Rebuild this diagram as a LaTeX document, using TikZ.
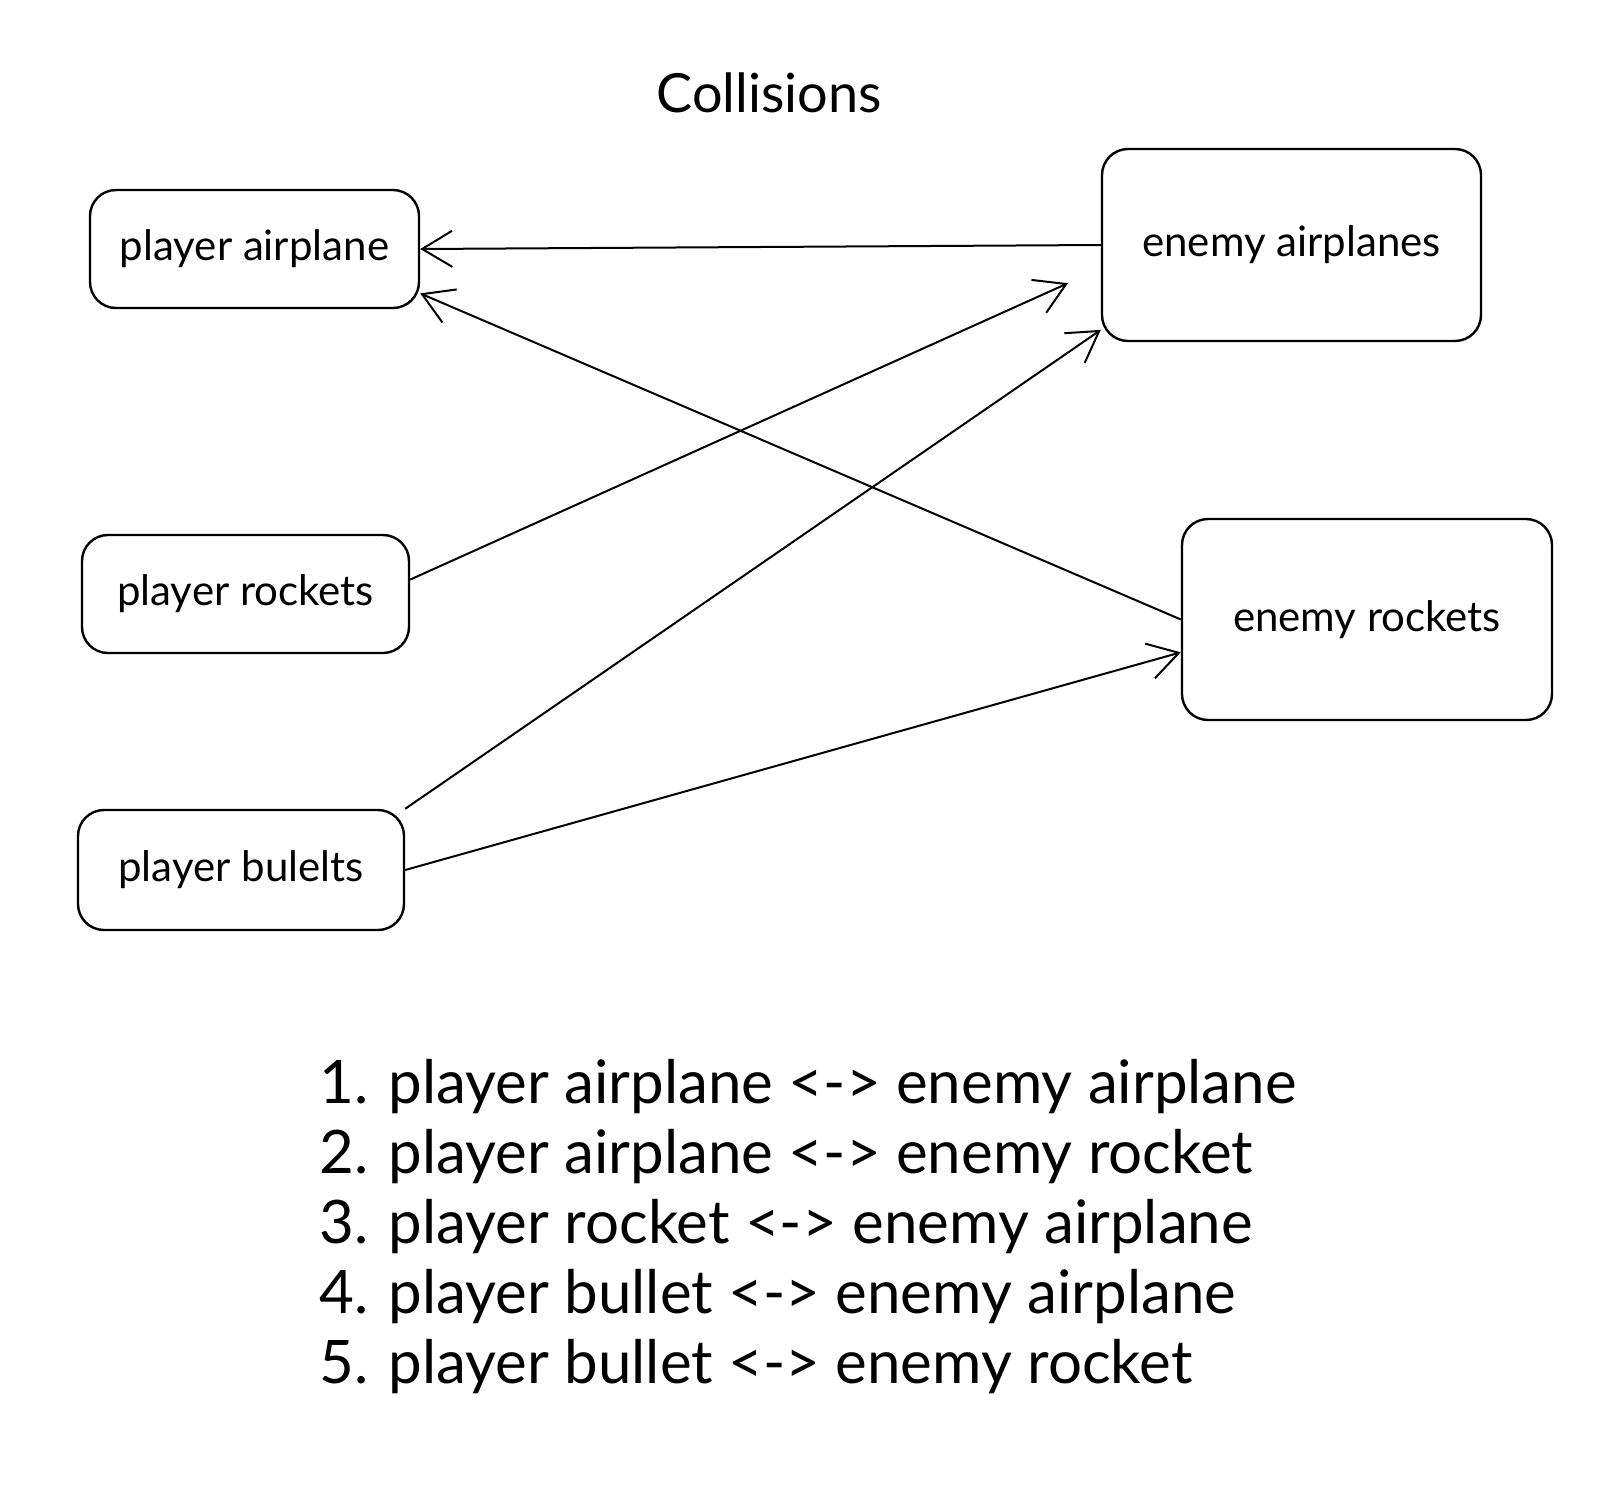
\documentclass[tikz,border=0pt]{standalone}
\usepackage{fontspec}
\setmainfont{Lato}
\usetikzlibrary{arrows.meta}

\begin{document}
\begin{tikzpicture}[x=0.5pt,y=-0.5pt,
  box/.style={draw, line width=1.2pt, rounded corners=13pt, inner sep=0pt, font=\fontsize{21}{25}\selectfont},
  link/.style={line width=1pt, -{Straight Barb[length=15pt,width=18pt,line width=1pt]}}]
\useasboundingbox (0,0) rectangle (1612,1488);

% Text Node
\node (title) at (769,93) {\fontsize{27}{31}\selectfont Collisions};

%Shape: Rectangle [player side]
\node[box, minimum width=164.5pt, minimum height=59pt] (pa) at (254.5,249) {player airplane};
\node[box, minimum width=163.5pt, minimum height=59pt] (pr) at (245.5,594) {player rockets};
\node[box, minimum width=163pt, minimum height=60pt] (pb) at (241,870) {player bulelts};

%Shape: Rectangle [enemy side]
\node[box, minimum width=189.5pt, minimum height=96pt] (ea) at (1291.5,245) {enemy airplanes};
\node[box, minimum width=185pt, minimum height=100.5pt] (er) at (1367,619.5) {enemy rockets};

%Straight Lines
\draw[link] (ea.west) -- (pa.east);
\draw[link] (er.west) -- (pa.-15);
\draw[link, shorten >=18pt] (pr.5) -- (ea.187);
\draw[link] (pb.north east) -- (ea.204);
\draw[link] (pb.east) -- (er.190);

% Text Node
\node[anchor=west, inner sep=0pt, align=left, font=\fontsize{30}{35}\selectfont] (list) at (319,1227) {1. player airplane <-> enemy airplane\\
2. player airplane <-> enemy rocket\\
3. player rocket <-> enemy airplane\\
4. player bullet <-> enemy airplane\\
5. player bullet <-> enemy rocket};
\end{tikzpicture}
\end{document}
